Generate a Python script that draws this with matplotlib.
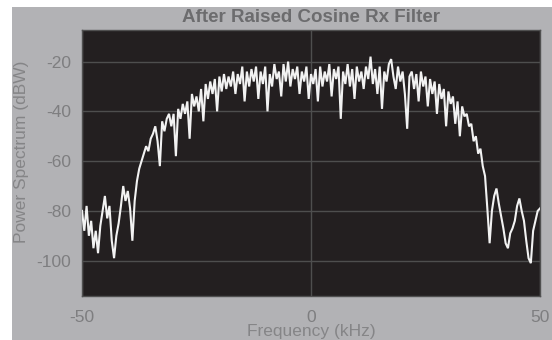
import numpy as np
import matplotlib
matplotlib.use("Agg")
import matplotlib.pyplot as plt
from matplotlib.patches import Rectangle

# Power spectrum after the raised-cosine receive filter (dBW), sampled every 0.5 kHz
power_dbw = [
    -80, -88, -78, -90, -84, -95, -88, -97, -86, -80,   # -50.0 .. -45.5
    -74, -83, -78, -92, -99, -90, -85, -78, -70, -76,   # -45.0 .. -40.5
    -72, -79, -92, -76, -68, -63, -60, -57, -54, -56,   # -40.0 .. -35.5
    -51, -49, -46, -52, -62, -44, -48, -43, -41, -46,   # -35.0 .. -30.5
    -41, -58, -39, -43, -37, -41, -36, -51, -33, -38,   # -30.0 .. -25.5
    -34, -40, -31, -44, -29, -35, -28, -33, -27, -40,   # -25.0 .. -20.5
    -26, -32, -25, -31, -26, -30, -24, -33, -25, -29,   # -20.0 .. -15.5
    -22, -36, -24, -30, -23, -28, -22, -35, -24, -29,   # -15.0 .. -10.5
    -22, -40, -25, -30, -21, -27, -24, -34, -21, -28,   # -10.0 .. -5.5
    -20, -30, -23, -27, -22, -33, -24, -28, -22, -35,   #  -5.0 .. -0.5
    -25, -29, -23, -36, -22, -30, -24, -28, -21, -34,   #   0.0 ..  4.5
    -23, -27, -22, -43, -24, -29, -21, -30, -23, -35,   #   5.0 ..  9.5
    -22, -28, -24, -31, -22, -27, -18, -29, -23, -33,   #  10.0 .. 14.5
    -22, -39, -24, -28, -21, -19, -26, -31, -22, -28,   #  15.0 .. 19.5
    -24, -33, -47, -26, -24, -31, -25, -36, -24, -30,   #  20.0 .. 24.5
    -26, -38, -27, -33, -28, -41, -29, -35, -31, -46,   #  25.0 .. 29.5
    -32, -37, -34, -45, -36, -50, -38, -42, -41, -46,   #  30.0 .. 34.5
    -45, -52, -50, -57, -55, -62, -66, -79, -93, -80,   #  35.0 .. 39.5
    -74, -71, -77, -82, -87, -93, -95, -89, -87, -84,   #  40.0 .. 44.5
    -78, -75, -80, -84, -92, -99, -101, -88, -84, -80,  #  45.0 .. 49.5
    -79,                                                #  50.0
]
freq_khz = np.linspace(-50, 50, len(power_dbw))

x_ticks = [-50, 0, 50]
y_ticks = [-100, -80, -60, -40, -20]

title_text = "After Raised Cosine Rx Filter"
x_label = "Frequency (kHz)"
y_label = "Power Spectrum (dBW)"

W, H = 552, 340
plt.rcParams["font.family"] = ["Liberation Sans", "DejaVu Sans"]
plt.rcParams["axes.unicode_minus"] = False
fig = plt.figure(figsize=(W / 100, H / 100), dpi=100, facecolor="white")

# grey window panel behind everything
fig.patches.append(Rectangle((12 / W, 0), 1 - 12 / W, 1 - 7 / H,
                             transform=fig.transFigure, facecolor="#b2b2b5",
                             edgecolor="none", zorder=-10))

ax = fig.add_axes([82 / W, 1 - 296 / H, (540 - 82) / W, (296 - 30) / H])
ax.set_zorder(5)
ax.set_facecolor("#231f20")
ax.plot(freq_khz, power_dbw, color="#f2f2f2", lw=1.5, zorder=3,
        solid_joinstyle="miter")

ax.set_xlim(-50, 50)
ax.set_ylim(-114.2, -7.3)
ax.set_xticks(x_ticks)
ax.set_yticks(y_ticks)
ax.grid(True, color="#4e4e4e", lw=1.0)
ax.set_axisbelow(True)
ax.tick_params(length=0, labelsize=12.5, labelcolor="#7e7e80")
ax.tick_params(axis="x", pad=10)
ax.tick_params(axis="y", pad=8)
for s in ax.spines.values():
    s.set_color("#505050")
    s.set_linewidth(1.0)

fig.text(311 / W, 1 - 17 / H, title_text, ha="center", va="center",
         fontsize=13.5, fontweight="bold", color="#6c6c6e", zorder=6)
fig.text(22 / W, 1 - 152 / H, y_label, ha="center", va="center",
         rotation=90, fontsize=12.5, color="#858587", zorder=6)
fig.text(311 / W, 1 / H, x_label, ha="center", va="bottom",
         fontsize=12.5, color="#858587", zorder=6)

fig.savefig("out.png", dpi=100, facecolor=fig.get_facecolor())
